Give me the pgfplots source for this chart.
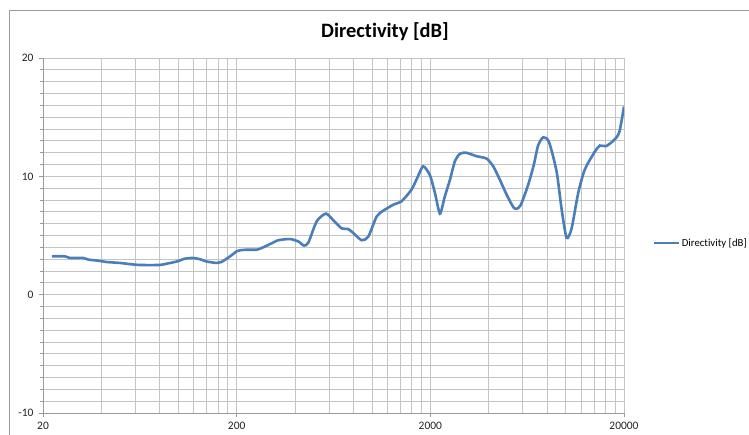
\documentclass[border=0pt]{standalone}
\usepackage{pgfplots}
\pgfplotsset{compat=1.18}
\usepackage{fontspec}
\setmainfont{Carlito}[Ligatures={NoCommon}]

\definecolor{xlblue}{HTML}{4A7EBB}
\definecolor{xlgrid}{HTML}{C4C4C4}
\definecolor{xlaxis}{HTML}{9A9A9A}
\definecolor{xltext}{HTML}{222222}

\begin{document}
\begin{tikzpicture}
\useasboundingbox (0bp,0bp) rectangle (749bp,435bp);
% chart area frame (right and bottom edges fall outside the picture)
\draw[xlaxis, line width=0.8bp] (9bp,-5bp) -- (9bp,425bp) -- (760bp,425bp);
\node[font=\bfseries\fontsize{20.5}{24}\selectfont, text=black] at (385bp,403bp) {Directivity [dB]};

\begin{axis}[
    at={(43bp,22bp)}, anchor=south west,
    scale only axis,
    width=581bp, height=355bp,
    xmode=log,
    xmin=20, xmax=20000,
    ymin=-10, ymax=20,
    xtick={20,200,2000,20000},
    xticklabels={20,200,2000,20000},
    minor xtick={40,60,80,100,120,140,160,180,
                 400,600,800,1000,1200,1400,1600,1800,
                 4000,6000,8000,10000,12000,14000,16000,18000},
    ytick={-10,0,10,20},
    minor ytick={-9,...,19},
    grid=both,
    major grid style={xlgrid, line width=0.75bp},
    minor grid style={xlgrid, line width=0.75bp},
    axis x line*=bottom,
    axis y line*=left,
    axis line style={xlaxis, line width=0.8bp},
    tick align=outside,
    major tick length=4bp,
    minor tick length=3bp,
    tick style={xlaxis, line width=0.7bp},
    minor x tick style={draw=none},
    ticklabel style={font=\fontsize{11.5}{13}\selectfont, text=xltext},
    /pgf/number format/assume math mode=true,
    xticklabel style={yshift=-2bp},
    yticklabel style={xshift=-2bp},
    legend style={at={(1,0.479)}, anchor=west, xshift=28bp, draw=none,
        fill=none, font=\fontsize{10.8}{13}\selectfont, text=black,
        inner sep=0pt, cells={anchor=west}},
    legend image code/.code={\draw[#1, line width=2.6bp] (0bp,0bp) -- (25bp,0bp);},
]
\addplot[xlblue, line width=2.6bp, smooth, tension=0.4] coordinates {
(22.2,3.24) (26,3.24) (27.5,3.1) (32.3,3.1) (34.3,2.96) (38.6,2.87)
(42.6,2.76) (50,2.68) (55,2.6) (63,2.51) (80,2.51) (87,2.62)
(98,2.8) (108,3.04) (119,3.1) (129,3.0) (140,2.8) (158,2.68)
(167,2.76) (185,3.24) (200,3.66) (210,3.76) (225,3.8) (254,3.8)
(274,4.0) (300,4.3) (328,4.6) (377,4.7) (416,4.5) (445,4.15)
(469,4.4) (518,6.2) (578,6.85) (630,6.3) (697,5.6) (754,5.55)
(800,5.2) (884,4.6) (956,4.9) (1056,6.6) (1143,7.1) (1287,7.6)
(1422,7.9) (1602,8.9) (1726,10.0) (1838,10.85) (1990,10.1) (2112,8.6)
(2242,6.85) (2375,8.3) (2524,9.7) (2680,11.3) (2843,11.9) (3054,12.0)
(3468,11.7) (3904,11.5) (4224,10.85) (4574,9.7) (4954,8.45) (5360,7.4)
(5580,7.25) (5870,7.6) (6404,9.3) (6850,11.0) (7200,12.6) (7650,13.3)
(8200,12.9) (8974,10.4) (9528,7.2) (10106,4.8) (10728,5.6) (11602,8.6)
(12566,10.6) (14152,12.1) (15018,12.6) (16134,12.55) (17596,13.0) (18890,13.7)
(20000,15.9)
};
\addlegendentry{Directivity [dB]}
\end{axis}
\end{tikzpicture}
\end{document}
